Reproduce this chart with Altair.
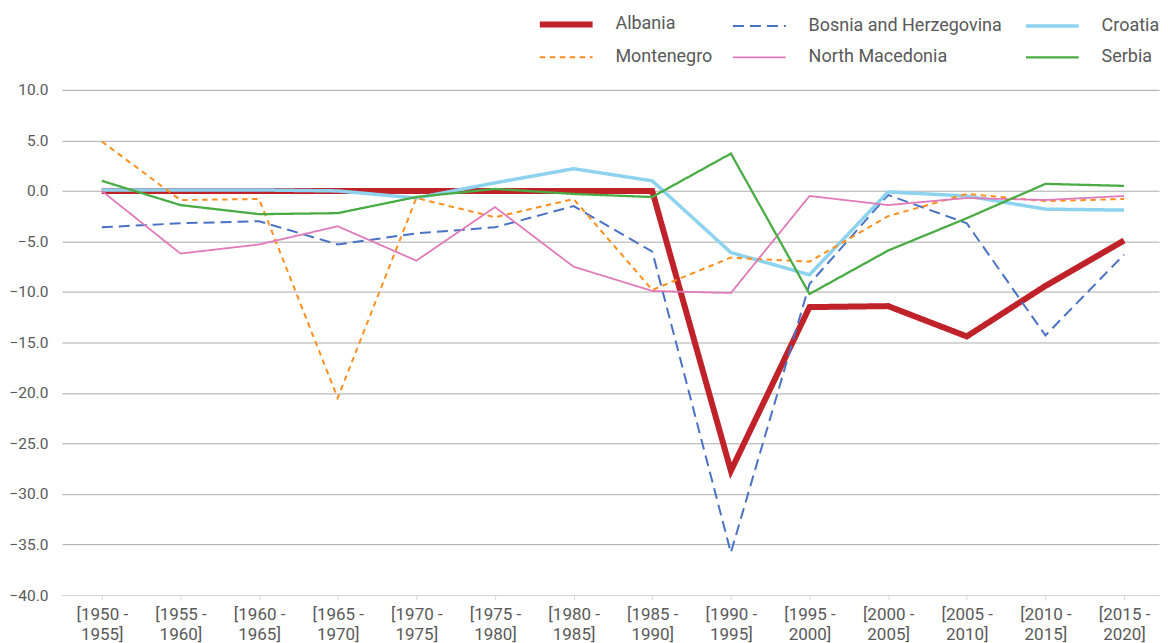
import altair as alt
import pandas as pd

periods = ["[1950 - 1955]", "[1955 - 1960]", "[1960 - 1965]", "[1965 - 1970]",
           "[1970 - 1975]", "[1975 - 1980]", "[1980 - 1985]", "[1985 - 1990]",
           "[1990 - 1995]", "[1995 - 2000]", "[2000 - 2005]", "[2005 - 2010]",
           "[2010 - 2015]", "[2015 - 2020]"]

countries = ["Albania", "Bosnia and Herzegovina", "Croatia",
             "Montenegro", "North Macedonia", "Serbia"]

albania = [0.0, 0.0, 0.0, 0.0, 0.0, 0.0, 0.0, 0.0, -27.7, -11.5, -11.4, -14.4, -9.4, -4.9]
bosnia = [-3.6, -3.2, -3.0, -5.3, -4.2, -3.6, -1.5, -6.0, -35.8, -9.2, -0.4, -3.2, -14.3, -6.3]
croatia = [0.1, 0.1, 0.1, 0.0, -0.7, 0.8, 2.2, 1.0, -6.1, -8.3, -0.1, -0.5, -1.8, -1.9]
montenegro = [4.9, -0.9, -0.8, -20.5, -0.7, -2.6, -0.8, -9.8, -6.6, -7.0, -2.5, -0.3, -1.0, -0.8]
macedonia = [0.0, -6.2, -5.3, -3.5, -6.9, -1.6, -7.5, -9.9, -10.1, -0.5, -1.4, -0.7, -0.9, -0.5]
serbia = [1.0, -1.4, -2.3, -2.2, -0.6, 0.2, -0.3, -0.6, 3.7, -10.2, -5.9, -2.7, 0.7, 0.5]

series = [albania, bosnia, croatia, montenegro, macedonia, serbia]

colors = ["#c0222a", "#4a72c4", "#8dd3ef", "#ff8f1f", "#e07ab8", "#4aac45"]
dashes = [[1, 0], [11, 6], [1, 0], [5.5, 4.5], [1, 0], [1, 0]]
widths = [6, 2, 3.5, 2, 1.8, 2.3]

rows = []
for c, vals in zip(countries, series):
    for p, v in zip(periods, vals):
        rows.append({"period": p, "country": c, "value": v})
df = pd.DataFrame(rows)

FONT = "Roboto"
GREY = "#595959"

legend = alt.Legend(
    title=None, orient="none", legendX=475, legendY=-74.6, direction="horizontal",
    columns=3, symbolType="M-1,0H9", symbolSize=112, labelFont=FONT,
    labelFontSize=18, labelColor=GREY, labelOffset=61.5, columnPadding=15.5,
    rowPadding=12, labelLimit=300, padding=0,
)

chart = alt.Chart(df).mark_line(strokeCap="butt", strokeJoin="miter").encode(
    x=alt.X("period:N", sort=periods, title=None,
            scale=alt.Scale(type="point", padding=0.476, align=0.533),
            axis=alt.Axis(labelAngle=0, labelFont=FONT, labelFontSize=17,
                          labelColor=GREY, labelLineHeight=19.5,
                          labelExpr="[slice(datum.label,0,7), slice(datum.label,8)]",
                          domainColor="#d9d9d9", tickColor="#d9d9d9", tickSize=5,
                          labelPadding=7, grid=False)),
    y=alt.Y("value:Q", title=None,
            scale=alt.Scale(domain=[-40, 10], nice=False, zero=False),
            axis=alt.Axis(values=list(range(-40, 11, 5)), format=".1f",
                          labelFont=FONT, labelFontSize=15.5, labelColor=GREY,
                          domain=False, ticks=False, labelPadding=14,
                          gridColor="#ababab", gridWidth=1)),
    color=alt.Color("country:N", scale=alt.Scale(domain=countries, range=colors),
                    legend=legend),
    strokeDash=alt.StrokeDash("country:N", scale=alt.Scale(domain=countries, range=dashes),
                              legend=legend),
    strokeWidth=alt.StrokeWidth("country:N",
                                scale=alt.Scale(type="ordinal", domain=countries, range=widths),
                                legend=legend),
    detail="country:N",
).properties(
    width=1099, height=506,
    padding={"left": 0, "top": 6.5, "right": 0, "bottom": 0},
).configure_view(stroke=None)

chart.save("out.html", embed_options={"renderer": "svg", "actions": False})
